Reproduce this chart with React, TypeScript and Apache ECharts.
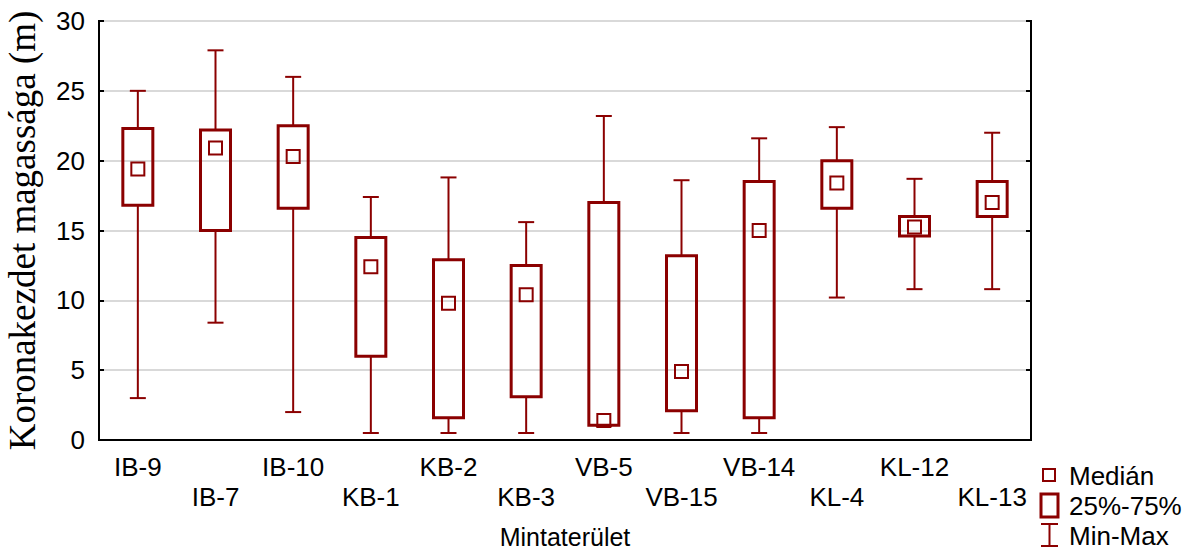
import React, { useEffect, useRef } from "react";
import * as echarts from "echarts";

const categories = ["IB-9", "IB-7", "IB-10", "KB-1", "KB-2", "KB-3", "VB-5", "VB-15", "VB-14", "KL-4", "KL-12", "KL-13"];
const maxValues = [25.0, 27.9, 26.0, 17.4, 18.8, 15.6, 23.2, 18.6, 21.6, 22.4, 18.7, 22.0];
const q3Values = [22.3, 22.2, 22.5, 14.5, 12.9, 12.5, 17.0, 13.2, 18.5, 20.0, 16.0, 18.5];
const medianValues = [19.4, 20.9, 20.3, 12.4, 9.8, 10.4, 1.4, 4.9, 15.0, 18.4, 15.25, 17.0];
const q1Values = [16.8, 15.0, 16.6, 6.0, 1.6, 3.1, 1.05, 2.1, 1.6, 16.6, 14.6, 16.0];
const minValues = [3.0, 8.4, 2.0, 0.5, 0.5, 0.5, 1.0, 0.5, 0.5, 10.2, 10.8, 10.8];
const yTicks = [0, 5, 10, 15, 20, 25, 30];

const RED = "#8b0000";
const SANS = "Liberation Sans, Arial, sans-serif";
const SERIF = "Liberation Serif, Times New Roman, serif";
const FS = 26;

export default function App() {
  const ref = useRef<HTMLDivElement>(null);
  useEffect(() => {
    if (!ref.current) return;
    const chart = echarts.init(ref.current, null, { renderer: "svg" });
    const data = categories.map((_, i) => [i, minValues[i], q1Values[i], medianValues[i], q3Values[i], maxValues[i]]);
    const option: any = {
      animation: false,
      backgroundColor: "#fff",
      grid: {
        left: 99, right: 156, top: 21, bottom: 113,
        containLabel: false,
        outerBoundsMode: "none",
        show: true, borderColor: "#000", borderWidth: 2, backgroundColor: "transparent",
      },
      xAxis: [
        {
          type: "category",
          data: categories,
          position: "bottom",
          name: "Mintaterület",
          nameLocation: "middle",
          nameGap: 86,
          nameTextStyle: { fontFamily: SANS, fontSize: 25, color: "#000", lineHeight: 22 },
          axisLine: { lineStyle: { color: "#000", width: 2 } },
          axisTick: { inside: true, alignWithLabel: true, length: 5, lineStyle: { color: "#000", width: 2 } },
          axisLabel: {
            interval: 0,
            margin: 12,
            fontFamily: SANS,
            fontSize: FS,
            color: "#000",
            lineHeight: 30,
            formatter: (v: string, i: number) => (i % 2 === 1 ? "\n" + v : v),
          },
        },
        {
          type: "category",
          data: categories,
          position: "top",
          axisLine: { lineStyle: { color: "#000", width: 2 } },
          axisTick: { inside: true, alignWithLabel: true, length: 5, lineStyle: { color: "#000", width: 2 } },
          axisLabel: { show: false },
        },
      ],
      yAxis: [
        {
          type: "value",
          min: yTicks[0],
          max: yTicks[yTicks.length - 1],
          interval: 5,
          name: "Koronakezdet magassága (m)",
          nameLocation: "middle",
          nameGap: 58,
          nameTextStyle: { fontFamily: SERIF, fontSize: 37, color: "#000" },
          axisLine: { show: true, lineStyle: { color: "#000", width: 2 } },
          axisTick: { show: true, inside: true, length: 5, lineStyle: { color: "#000", width: 2 } },
          axisLabel: { margin: 14, fontFamily: SANS, fontSize: FS, color: "#000" },
          splitLine: { show: true, lineStyle: { color: "#d9d9d9", width: 2 } },
        },
        {
          type: "value",
          position: "right",
          min: yTicks[0],
          max: yTicks[yTicks.length - 1],
          interval: 5,
          axisLine: { show: true, lineStyle: { color: "#000", width: 2 } },
          axisTick: { show: true, inside: true, length: 5, lineStyle: { color: "#000", width: 2 } },
          axisLabel: { show: false },
          splitLine: { show: false },
        },
      ],
      series: [
        {
          type: "custom",
          xAxisIndex: 0,
          yAxisIndex: 0,
          data,
          renderItem: (params: any, api: any) => {
            const i = api.value(0);
            const x = api.coord([i, 0])[0];
            const yMin = api.coord([i, api.value(1)])[1];
            const yQ1 = api.coord([i, api.value(2)])[1];
            const yMed = api.coord([i, api.value(3)])[1];
            const yQ3 = api.coord([i, api.value(4)])[1];
            const yMax = api.coord([i, api.value(5)])[1];
            const bw = 30, cw = 16, ms = 13;
            const ls = { stroke: RED, lineWidth: 2 };
            return {
              type: "group",
              children: [
                { type: "line", shape: { x1: x, y1: yMax, x2: x, y2: yQ3 }, style: ls },
                { type: "line", shape: { x1: x, y1: yQ1, x2: x, y2: yMin }, style: ls },
                { type: "line", shape: { x1: x - cw / 2, y1: yMax, x2: x + cw / 2, y2: yMax }, style: ls },
                { type: "line", shape: { x1: x - cw / 2, y1: yMin, x2: x + cw / 2, y2: yMin }, style: ls },
                { type: "rect", shape: { x: x - bw / 2, y: yQ3, width: bw, height: yQ1 - yQ3 }, style: { fill: "none", stroke: RED, lineWidth: 3 } },
                { type: "rect", shape: { x: x - ms / 2, y: yMed - ms / 2, width: ms, height: ms }, style: { fill: "none", stroke: RED, lineWidth: 2 } },
              ],
            };
          },
        },
      ],
      graphic: [
        { type: "rect", shape: { x: 1043, y: 469, width: 12, height: 12 }, style: { fill: "none", stroke: RED, lineWidth: 2 } },
        { type: "text", x: 1069, y: 476, style: { text: "Medián", fontFamily: SANS, fontSize: FS, fill: "#000", verticalAlign: "middle" } },
        { type: "rect", shape: { x: 1041, y: 494, width: 17, height: 23 }, style: { fill: "none", stroke: RED, lineWidth: 3 } },
        { type: "text", x: 1069, y: 506, style: { text: "25%-75%", fontFamily: SANS, fontSize: FS, fill: "#000", verticalAlign: "middle" } },
        { type: "line", shape: { x1: 1049.5, y1: 524, x2: 1049.5, y2: 546 }, style: { stroke: RED, lineWidth: 2 } },
        { type: "line", shape: { x1: 1041, y1: 524, x2: 1058, y2: 524 }, style: { stroke: RED, lineWidth: 2 } },
        { type: "line", shape: { x1: 1041, y1: 546, x2: 1058, y2: 546 }, style: { stroke: RED, lineWidth: 2 } },
        { type: "text", x: 1069, y: 536, style: { text: "Min-Max", fontFamily: SANS, fontSize: FS, fill: "#000", verticalAlign: "middle" } },
      ],
    };
    chart.setOption(option);
    return () => chart.dispose();
  }, []);
  return <div ref={ref} style={{ width: 1187, height: 553, position: "absolute", left: 0, top: 0 }} />;
}
